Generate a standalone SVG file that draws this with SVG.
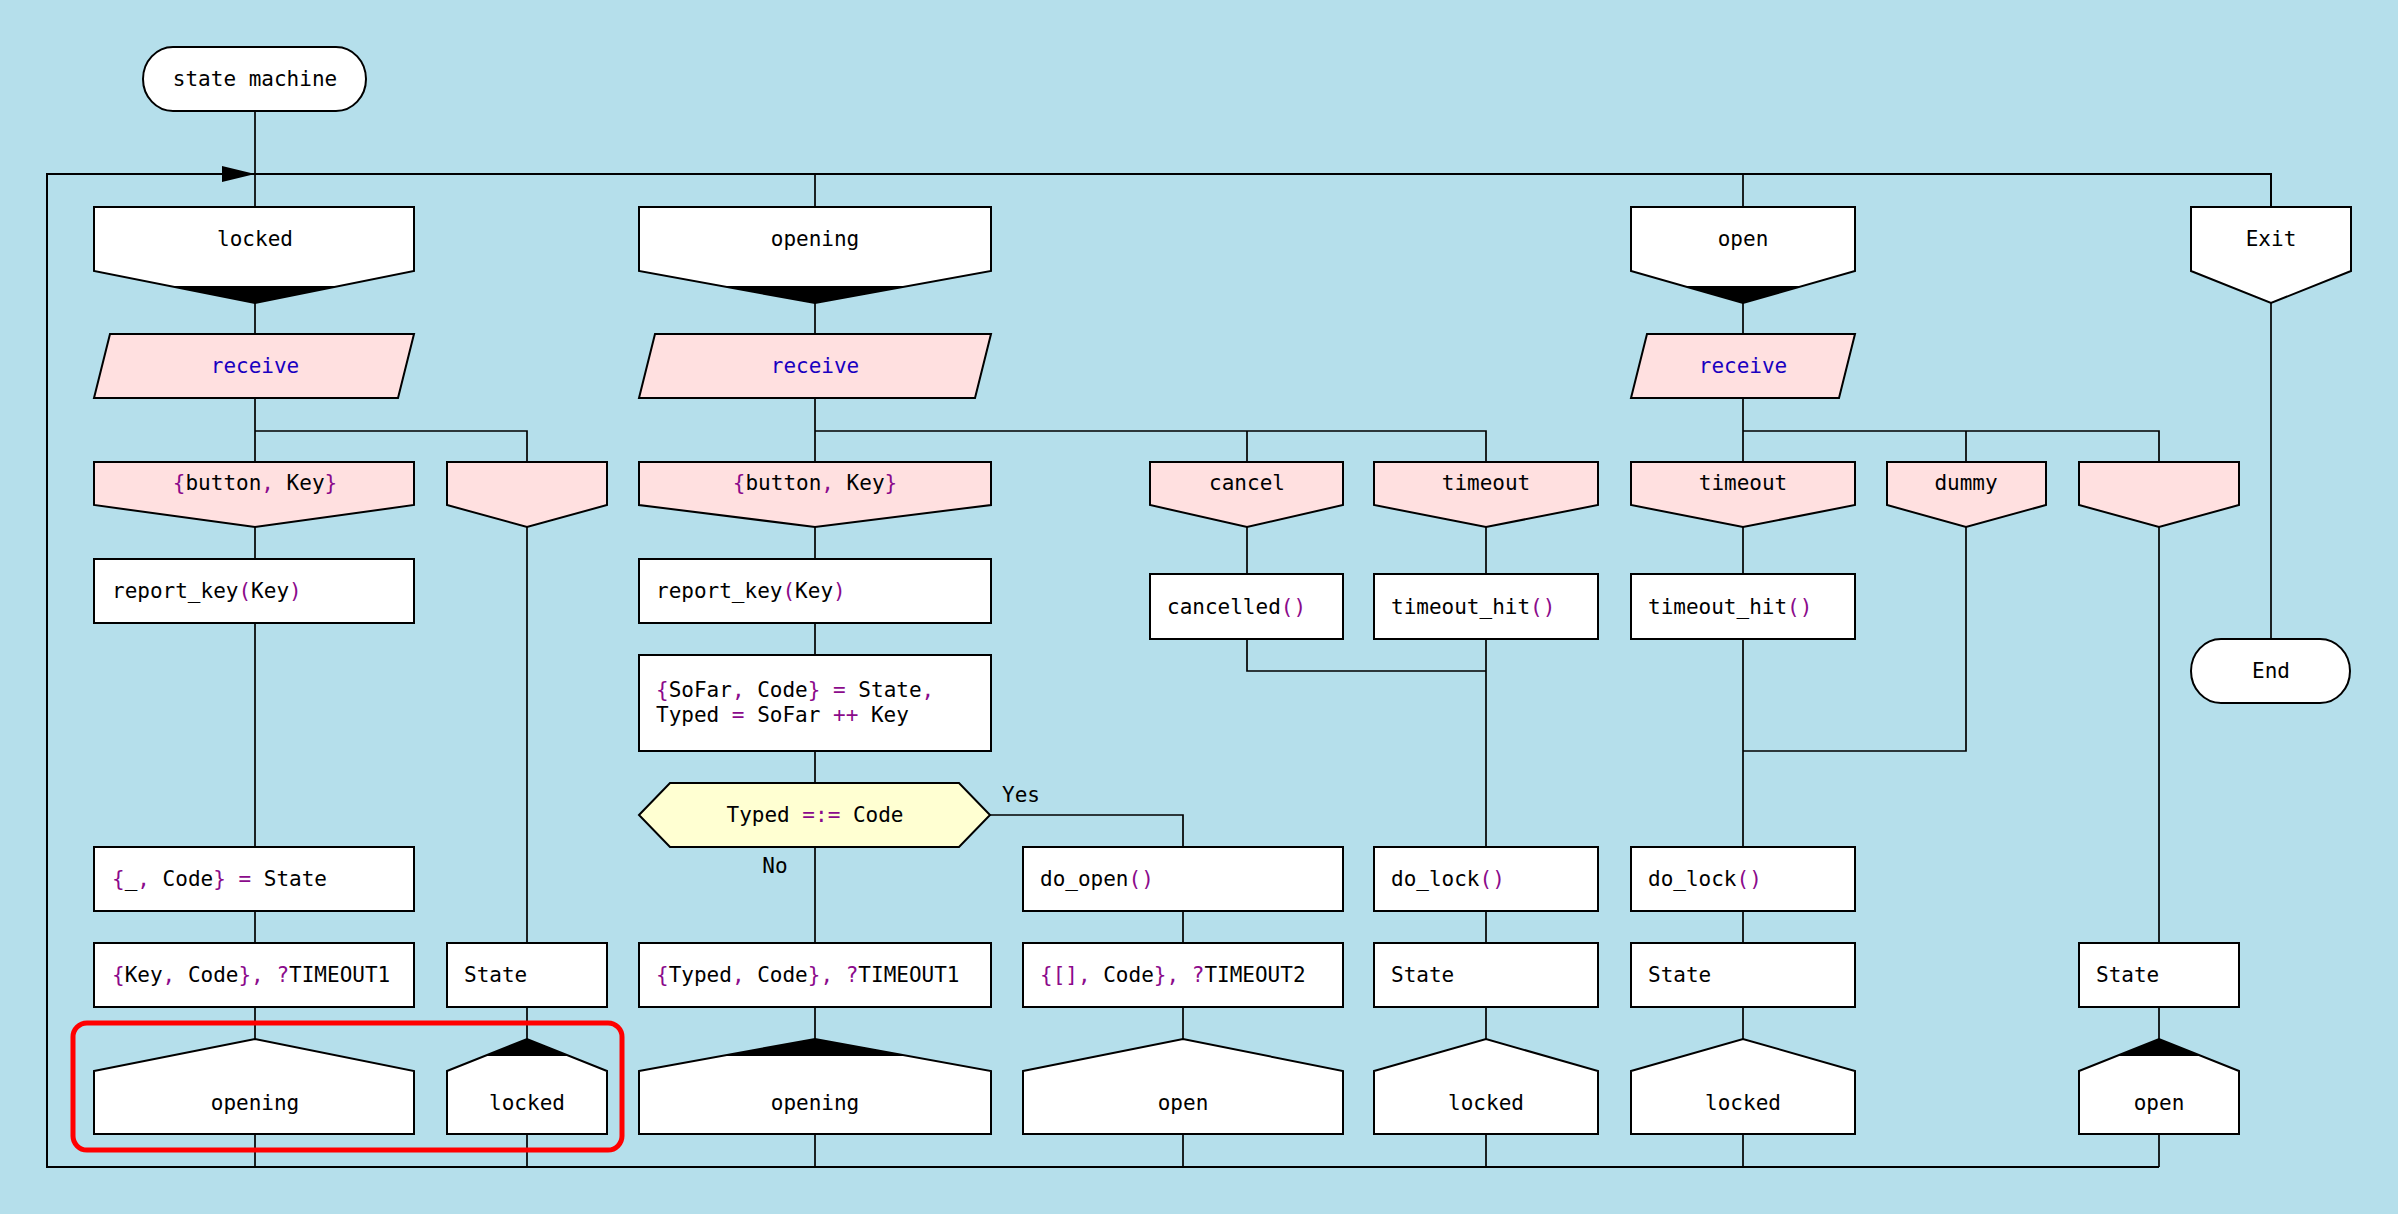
<svg xmlns="http://www.w3.org/2000/svg" width="2398" height="1214" viewBox="0 0 2398 1214">
<style>
.bg{fill:#b5dfeb}
.box{fill:#fff;stroke:#000;stroke-width:2}
.cond{fill:#ffe0e0;stroke:#000;stroke-width:2}
.dec{fill:#ffffd2;stroke:#000;stroke-width:2}
.blk{fill:#000}
.ln{fill:none;stroke:#000;stroke-width:1.7}
.main{fill:none;stroke:#000;stroke-width:2}
text{font-family:"DejaVu Sans Mono","Liberation Mono",monospace;font-size:21px;fill:#000}
.c{text-anchor:middle}
.p{fill:#8b0a8b}
.kw{fill:#1a00c0}
.hl{fill:none;stroke:#ff0000;stroke-width:5}
</style>
<rect class="bg" x="0" y="0" width="2398" height="1214"/>

<g id="connectors">
<path class="main" d="M2159,1167 H47 V174 H2271 V207"/>
<polygon class="blk" points="222,166 255,174 222,182"/>
<path class="ln" d="M255,111 V207 M255,303 V334 M255,398 V462 M255,431 H527 V462 M255,527 V559 M255,623 V847 M255,911 V943 M255,1007 V1039 M255,1134 V1167"/>
<path class="ln" d="M527,527 V943 M527,1007 V1039 M527,1134 V1167"/>
<path class="ln" d="M815,174 V207 M815,303 V334 M815,398 V462 M815,431 H1486 V462 M1247,431 V462 M815,527 V559 M815,623 V655 M815,751 V783 M815,847 V943 M815,1007 V1039 M815,1134 V1167"/>
<path class="ln" d="M990,815 H1183 V847 M1183,911 V943 M1183,1007 V1039 M1183,1134 V1167"/>
<path class="ln" d="M1247,527 V574 M1247,639 V671 H1486 M1486,527 V574 M1486,639 V847 M1486,911 V943 M1486,1007 V1039 M1486,1134 V1167"/>
<path class="ln" d="M1743,174 V207 M1743,303 V334 M1743,398 V462 M1743,431 H2159 V462 M1966,431 V462 M1743,527 V574 M1743,639 V847 M1966,527 V751 H1743 M1743,911 V943 M1743,1007 V1039 M1743,1134 V1167"/>
<path class="ln" d="M2159,527 V943 M2159,1007 V1039 M2159,1134 V1167"/>
<path class="ln" d="M2271,303 V639"/>
</g>

<g id="start">
<rect class="box" x="143" y="47" width="223" height="64" rx="30" ry="32"/>
<text class="c" x="255" y="86">state machine</text>
</g>

<g id="state-locked">
<polygon class="box" points="94,207 414,207 414,271 255,303 94,271"/>
<polygon class="blk" points="169.5,286 339.5,286 255,303"/>
<text class="c" x="255" y="246">locked</text>
</g>
<g id="state-opening">
<polygon class="box" points="639,207 991,207 991,271 815,303 639,271"/>
<polygon class="blk" points="721.5,286 908.5,286 815,303"/>
<text class="c" x="815" y="246">opening</text>
</g>
<g id="state-open">
<polygon class="box" points="1631,207 1855,207 1855,271 1743,303 1631,271"/>
<polygon class="blk" points="1683.5,286 1802.5,286 1743,303"/>
<text class="c" x="1743" y="246">open</text>
</g>
<g id="state-exit">
<polygon class="box" points="2191,207 2351,207 2351,271 2271,303 2191,271"/>
<text class="c" x="2271" y="246">Exit</text>
</g>

<g id="receive-locked">
<polygon class="cond" points="110,334 414,334 398,398 94,398"/>
<text class="c kw" x="255" y="373">receive</text>
</g>
<g id="receive-opening">
<polygon class="cond" points="655,334 991,334 975,398 639,398"/>
<text class="c kw" x="815" y="373">receive</text>
</g>
<g id="receive-open">
<polygon class="cond" points="1647,334 1855,334 1839,398 1631,398"/>
<text class="c kw" x="1743" y="373">receive</text>
</g>

<g id="cond-a-button">
<polygon class="cond" points="94,462 414,462 414,505 255,527 94,505"/>
<text class="c" x="255" y="490"><tspan class="p">{</tspan>button<tspan class="p">,</tspan> Key<tspan class="p">}</tspan></text>
</g>
<g id="cond-a-any">
<polygon class="cond" points="447,462 607,462 607,505 527,527 447,505"/>
</g>
<g id="cond-c-button">
<polygon class="cond" points="639,462 991,462 991,505 815,527 639,505"/>
<text class="c" x="815" y="490"><tspan class="p">{</tspan>button<tspan class="p">,</tspan> Key<tspan class="p">}</tspan></text>
</g>
<g id="cond-c-cancel">
<polygon class="cond" points="1150,462 1343,462 1343,505 1247,527 1150,505"/>
<text class="c" x="1247" y="490">cancel</text>
</g>
<g id="cond-c-timeout">
<polygon class="cond" points="1374,462 1598,462 1598,505 1486,527 1374,505"/>
<text class="c" x="1486" y="490">timeout</text>
</g>
<g id="cond-o-timeout">
<polygon class="cond" points="1631,462 1855,462 1855,505 1743,527 1631,505"/>
<text class="c" x="1743" y="490">timeout</text>
</g>
<g id="cond-o-dummy">
<polygon class="cond" points="1887,462 2046,462 2046,505 1966,527 1887,505"/>
<text class="c" x="1966" y="490">dummy</text>
</g>
<g id="cond-o-any">
<polygon class="cond" points="2079,462 2239,462 2239,505 2159,527 2079,505"/>
</g>

<g id="act-report-a">
<rect class="box" x="94" y="559" width="320" height="64"/>
<text x="112" y="598">report_key<tspan class="p">(</tspan>Key<tspan class="p">)</tspan></text>
</g>
<g id="act-report-c">
<rect class="box" x="639" y="559" width="352" height="64"/>
<text x="656" y="598">report_key<tspan class="p">(</tspan>Key<tspan class="p">)</tspan></text>
</g>
<g id="act-sofar">
<rect class="box" x="639" y="655" width="352" height="96"/>
<text x="656" y="697"><tspan class="p">{</tspan>SoFar<tspan class="p">,</tspan> Code<tspan class="p">}</tspan> <tspan class="p">=</tspan> State<tspan class="p">,</tspan></text>
<text x="656" y="722">Typed <tspan class="p">=</tspan> SoFar <tspan class="p">++</tspan> Key</text>
</g>
<g id="act-cancelled">
<rect class="box" x="1150" y="574" width="193" height="65"/>
<text x="1167" y="614">cancelled<tspan class="p">()</tspan></text>
</g>
<g id="act-timeout-c">
<rect class="box" x="1374" y="574" width="224" height="65"/>
<text x="1391" y="614">timeout_hit<tspan class="p">()</tspan></text>
</g>
<g id="act-timeout-o">
<rect class="box" x="1631" y="574" width="224" height="65"/>
<text x="1648" y="614">timeout_hit<tspan class="p">()</tspan></text>
</g>

<g id="decision">
<polygon class="dec" points="639,815 670,783 959,783 990,815 959,847 670,847"/>
<text class="c" x="815" y="822">Typed <tspan class="p">=:=</tspan> Code</text>
</g>
<g id="labels">
<text x="1002" y="802">Yes</text>
<text class="c" x="775" y="873">No</text>
</g>

<g id="act-code-state">
<rect class="box" x="94" y="847" width="320" height="64"/>
<text x="112" y="886"><tspan class="p">{</tspan>_<tspan class="p">,</tspan> Code<tspan class="p">}</tspan> <tspan class="p">=</tspan> State</text>
</g>
<g id="act-do-open">
<rect class="box" x="1023" y="847" width="320" height="64"/>
<text x="1040" y="886">do_open<tspan class="p">()</tspan></text>
</g>
<g id="act-do-lock-c">
<rect class="box" x="1374" y="847" width="224" height="64"/>
<text x="1391" y="886">do_lock<tspan class="p">()</tspan></text>
</g>
<g id="act-do-lock-o">
<rect class="box" x="1631" y="847" width="224" height="64"/>
<text x="1648" y="886">do_lock<tspan class="p">()</tspan></text>
</g>

<g id="ret-a">
<rect class="box" x="94" y="943" width="320" height="64"/>
<text x="112" y="982"><tspan class="p">{</tspan>Key<tspan class="p">,</tspan> Code<tspan class="p">},</tspan> <tspan class="p">?</tspan>TIMEOUT1</text>
</g>
<g id="ret-b">
<rect class="box" x="447" y="943" width="160" height="64"/>
<text x="464" y="982">State</text>
</g>
<g id="ret-c">
<rect class="box" x="639" y="943" width="352" height="64"/>
<text x="656" y="982"><tspan class="p">{</tspan>Typed<tspan class="p">,</tspan> Code<tspan class="p">},</tspan> <tspan class="p">?</tspan>TIMEOUT1</text>
</g>
<g id="ret-d">
<rect class="box" x="1023" y="943" width="320" height="64"/>
<text x="1040" y="982"><tspan class="p">{[],</tspan> Code<tspan class="p">},</tspan> <tspan class="p">?</tspan>TIMEOUT2</text>
</g>
<g id="ret-e">
<rect class="box" x="1374" y="943" width="224" height="64"/>
<text x="1391" y="982">State</text>
</g>
<g id="ret-f">
<rect class="box" x="1631" y="943" width="224" height="64"/>
<text x="1648" y="982">State</text>
</g>
<g id="ret-g">
<rect class="box" x="2079" y="943" width="160" height="64"/>
<text x="2096" y="982">State</text>
</g>

<g id="next-opening-a">
<polygon class="box" points="94,1071 255,1039 414,1071 414,1134 94,1134"/>
<text class="c" x="255" y="1110">opening</text>
</g>
<g id="next-locked-b">
<polygon class="box" points="447,1071 527,1039 607,1071 607,1134 447,1134"/>
<polygon class="blk" points="527,1039 569.5,1056 484.5,1056"/>
<text class="c" x="527" y="1110">locked</text>
</g>
<g id="next-opening-c">
<polygon class="box" points="639,1071 815,1039 991,1071 991,1134 639,1134"/>
<polygon class="blk" points="815,1039 908.5,1056 721.5,1056"/>
<text class="c" x="815" y="1110">opening</text>
</g>
<g id="next-open-d">
<polygon class="box" points="1023,1071 1183,1039 1343,1071 1343,1134 1023,1134"/>
<text class="c" x="1183" y="1110">open</text>
</g>
<g id="next-locked-e">
<polygon class="box" points="1374,1071 1486,1039 1598,1071 1598,1134 1374,1134"/>
<text class="c" x="1486" y="1110">locked</text>
</g>
<g id="next-locked-f">
<polygon class="box" points="1631,1071 1743,1039 1855,1071 1855,1134 1631,1134"/>
<text class="c" x="1743" y="1110">locked</text>
</g>
<g id="next-open-g">
<polygon class="box" points="2079,1071 2159,1039 2239,1071 2239,1134 2079,1134"/>
<polygon class="blk" points="2159,1039 2201.5,1056 2116.5,1056"/>
<text class="c" x="2159" y="1110">open</text>
</g>

<g id="end">
<rect class="box" x="2191" y="639" width="159" height="64" rx="30" ry="32"/>
<text class="c" x="2271" y="678">End</text>
</g>

<g id="highlight">
<rect class="hl" x="73" y="1023" width="549" height="127" rx="14" ry="14"/>
</g>
</svg>
